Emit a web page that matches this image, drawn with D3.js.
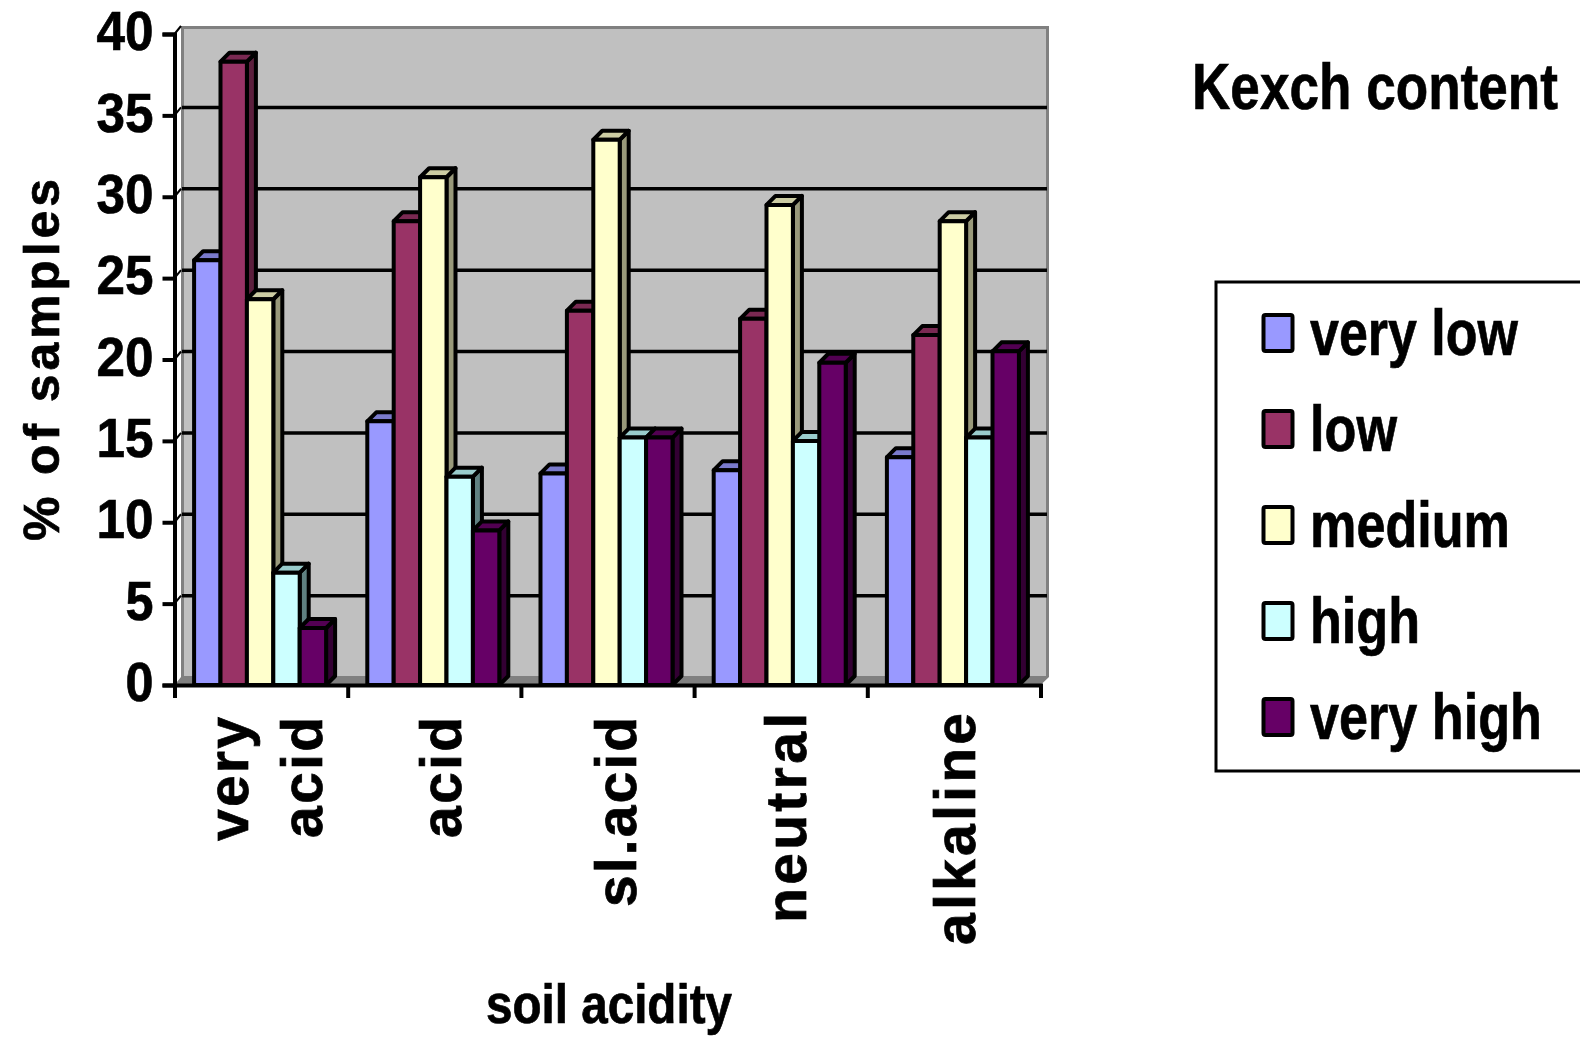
<!DOCTYPE html>
<html lang="en">
<head>
<meta charset="UTF-8">
<title>Kexch content by soil acidity</title>
<script src="https://d3js.org/d3.v7.min.js"></script>
<style>
    html, body { margin: 0; background: #fff; }
    svg { display: block; }
    text { font-family: "Liberation Sans", Arial, sans-serif; font-weight: bold; fill: #000; stroke: #000; stroke-width: 0.7px; }
</style>
</head>
<body>
<svg id="chart" width="1580" height="1038"></svg>
<script>
// data
const categories = ["very acid", "acid", "sl.acid", "neutral", "alkaline"];
const series = ["very low", "low", "medium", "high", "very high"];
const veryLow  = [26.1, 16.2, 13.0, 13.2, 14.0];
const low      = [38.3, 28.5, 23.0, 22.5, 21.5];
const medium   = [23.7, 31.2, 33.5, 29.5, 28.5];
const high     = [6.9, 12.8, 15.2, 15.0, 15.2];
const veryHigh = [3.5, 9.5, 15.2, 19.8, 20.5];
const values = [veryLow, low, medium, high, veryHigh];
const yTicks = [0, 5, 10, 15, 20, 25, 30, 35, 40];

const front = ["#9999FF", "#993366", "#FFFFCC", "#CCFFFF", "#660066"];
const top3d = ["#7A7ACC", "#7A2952", "#CCCCA3", "#99CCCC", "#520052"];
const side  = ["#5C5C99", "#5C1F3D", "#99997A", "#5F8080", "#330033"];

const svg = d3.select("#chart");
const depth = 9;

const y = d3.scaleLinear().domain([0, 40]).range([685, 34]);
const x0 = d3.scaleBand().domain(categories).range([174.5, 1040.5]);
const x1 = d3.scaleBand().domain(series).range([0, x0.bandwidth()]).paddingInner(0).paddingOuter(0.78);

// back wall and floor
svg.append("path")
    .attr("d", "M174.5,685 L181,677 L181,26 L1049,26 L1049,677 L1040.5,685 Z")
    .attr("fill", "#808080");
svg.append("rect")
    .attr("x", 184).attr("y", 29).attr("width", 862).attr("height", 647)
    .attr("fill", "#C0C0C0");

// gridlines on the wall
svg.selectAll(".grid")
    .data(yTicks.slice(1, -1))
    .enter().append("line")
    .attr("x1", 182)
    .attr("x2", 1047)
    .attr("y1", d => y(d) - 8)
    .attr("y2", d => y(d) - 8)
    .attr("stroke", "#000")
    .attr("stroke-width", 3.5);

// small links from axis ticks to the wall
svg.selectAll(".link")
    .data(yTicks.slice(1))
    .enter().append("line")
    .attr("x1", 174.5)
    .attr("x2", 181)
    .attr("y1", d => y(d))
    .attr("y2", d => y(d) - 8)
    .attr("stroke", "#000")
    .attr("stroke-width", 2);

// bars, left to right so the next one covers the side of the last
categories.forEach((c, i) => {
    series.forEach((s, j) => {
        const l = x0(c) + x1(s) - 1;
        const r = l + x1.bandwidth();
        const t = y(values[j][i]);
        const b = y(0);
        const g = svg.append("g")
            .attr("stroke", "#000")
            .attr("stroke-width", 4)
            .attr("stroke-linejoin", "round");
        g.append("path")
            .attr("d", `M${r},${t} L${r + depth},${t - depth} L${r + depth},${b - depth} L${r},${b} Z`)
            .attr("fill", side[j]);
        g.append("path")
            .attr("d", `M${l},${t} L${l + depth},${t - depth} L${r + depth},${t - depth} L${r},${t} Z`)
            .attr("fill", top3d[j]);
        g.append("rect")
            .attr("x", l).attr("y", t)
            .attr("width", r - l).attr("height", b - t)
            .attr("fill", front[j]);
    });
});

// y axis
const yAxis = svg.append("g")
    .attr("transform", "translate(174.5,0)")
    .call(d3.axisLeft(y).tickValues(yTicks).tickSize(12).tickPadding(9));
yAxis.selectAll("path, line").attr("stroke", "#000").attr("stroke-width", 4);
yAxis.selectAll("text")
    .style("font-size", "56px")
    .attr("dy", "0.28em")
    .attr("textLength", d => d >= 10 ? 57 : 28)
    .attr("lengthAdjust", "spacingAndGlyphs");

// x axis, ticks sit on the band edges
const edges = d3.scaleLinear().domain([0, categories.length]).range([174.5, 1040.5]);
const xAxis = svg.append("g")
    .attr("transform", "translate(0,685)")
    .call(d3.axisBottom(edges).ticks(categories.length).tickFormat("").tickSize(13));
xAxis.selectAll("path, line").attr("stroke", "#000").attr("stroke-width", 4);

// rotated text, letters spread to a fitted length
function rotated(x, y, str, size, len) {
    svg.append("text")
        .attr("font-size", size)
        .attr("textLength", len)
        .attr("lengthAdjust", "spacing")
        .attr("text-anchor", "end")
        .attr("transform", `translate(${x},${y}) rotate(-90)`)
        .text(str);
}

// flat text squeezed sideways to a fitted width, the original is stretched
function squeezed(x, y, str, size, len) {
    const t = svg.append("text")
        .attr("font-size", size)
        .text(str);
    const natural = t.node().getComputedTextLength();
    t.attr("transform", `translate(${x},${y}) scale(${len / natural},1)`);
}

// category labels, rotated, reading up and ending just under the axis
rotated(248, 717, "very", 57, 124);
rotated(322, 717, "acid", 57, 121);
rotated(461, 717, "acid", 57, 121);
rotated(636, 717, "sl.acid", 57, 190);
rotated(806, 713, "neutral", 57, 210);
rotated(975, 713, "alkaline", 57, 232);

rotated(59, 179, "% of samples", 50, 362);
squeezed(486, 1023, "soil acidity", 55, 246);
squeezed(1192, 109, "Kexch content", 65, 366);

// legend
svg.append("rect")
    .attr("x", 1216).attr("y", 282)
    .attr("width", 380).attr("height", 489)
    .attr("fill", "#fff").attr("stroke", "#000").attr("stroke-width", 3);

const legendY = d3.scalePoint().domain(series).range([333, 717]);
const legendWidths = [208, 87, 200, 110, 232];
series.forEach((s, j) => {
    svg.append("rect")
        .attr("x", 1263.5).attr("y", legendY(s) - 18)
        .attr("width", 29).attr("height", 36)
        .attr("rx", 2)
        .attr("fill", front[j]).attr("stroke", "#000").attr("stroke-width", 4);
    squeezed(1310, legendY(s) + 22, s, 64, legendWidths[j]);
});
</script>
</body>
</html>
